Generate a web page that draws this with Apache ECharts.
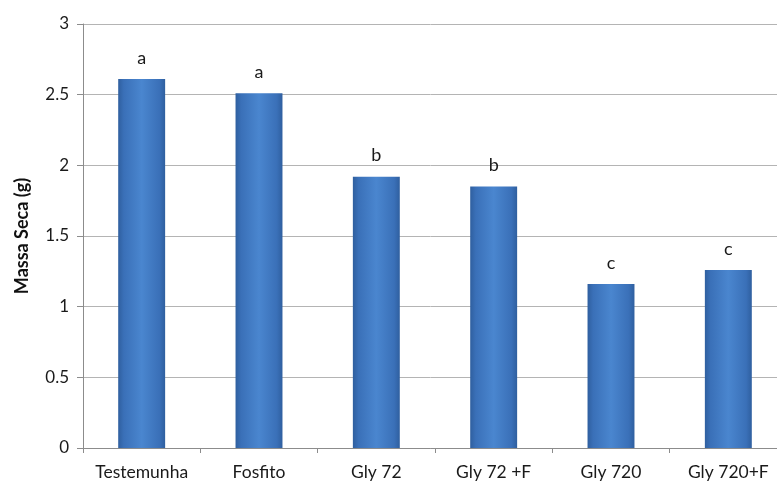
<!DOCTYPE html>
<html>
<head>
<meta charset="utf-8">
<script src="https://cdn.jsdelivr.net/npm/echarts@6/dist/echarts.min.js"></script>
<style>html,body{margin:0;padding:0;background:#fff}#c{width:777px;height:485px}</style>
</head>
<body>
<div id="c"></div>
<script>
const categories = ['Testemunha', 'Fosfito', 'Gly 72', 'Gly 72 +F', 'Gly 720', 'Gly 720+F'];
const values = [2.61, 2.51, 1.92, 1.85, 1.16, 1.26];
const letters = ['a', 'a', 'b', 'b', 'c', 'c'];
const yTicks = [0, 0.5, 1, 1.5, 2, 2.5, 3];

const chart = echarts.init(document.getElementById('c'));
const font = 'Lato, "Open Sans", sans-serif';
chart.setOption({
  animation: false,
  grid: { left: 83, right: -10, top: 24, bottom: 37, outerBoundsMode: 'none' },
  xAxis: {
    type: 'category',
    data: categories,
    axisLine: { lineStyle: { color: '#8c8c8c', width: 1 } },
    axisTick: { show: true, length: 5, lineStyle: { color: '#8c8c8c' }, alignWithLabel: false },
    axisLabel: { color: '#1a1a1a', fontSize: 17.5, fontFamily: font, margin: 15, interval: 0, hideOverlap: false }
  },
  yAxis: {
    type: 'value',
    min: yTicks[0],
    max: yTicks[yTicks.length - 1],
    interval: 0.5,
    name: 'Massa Seca (g)',
    nameLocation: 'middle',
    nameGap: 52,
    nameTextStyle: { color: '#111', fontSize: 18, fontWeight: 'bold', fontFamily: font },
    axisLine: { show: true, lineStyle: { color: '#8c8c8c' } },
    axisTick: { show: true, length: 6, inside: false, lineStyle: { color: '#8c8c8c' } },
    axisLabel: { color: '#1a1a1a', fontSize: 17, fontFamily: font, margin: 14 },
    splitLine: { lineStyle: { color: '#b4b4b4', width: 1 } }
  },
  series: [{
    type: 'bar',
    data: values,
    barWidth: '40%',
    itemStyle: {
      color: new echarts.graphic.LinearGradient(0, 0, 1, 0, [
        { offset: 0, color: '#2f5f9f' },
        { offset: 0.12, color: '#3a70b8' },
        { offset: 0.5, color: '#4a86cf' },
        { offset: 0.88, color: '#3a70b8' },
        { offset: 1, color: '#2f5f9f' }
      ])
    },
    label: {
      show: true,
      position: 'top',
      distance: 12,
      color: '#1a1a1a',
      fontSize: 18,
      fontFamily: font,
      formatter: p => letters[p.dataIndex]
    }
  }]
});
</script>
</body>
</html>
